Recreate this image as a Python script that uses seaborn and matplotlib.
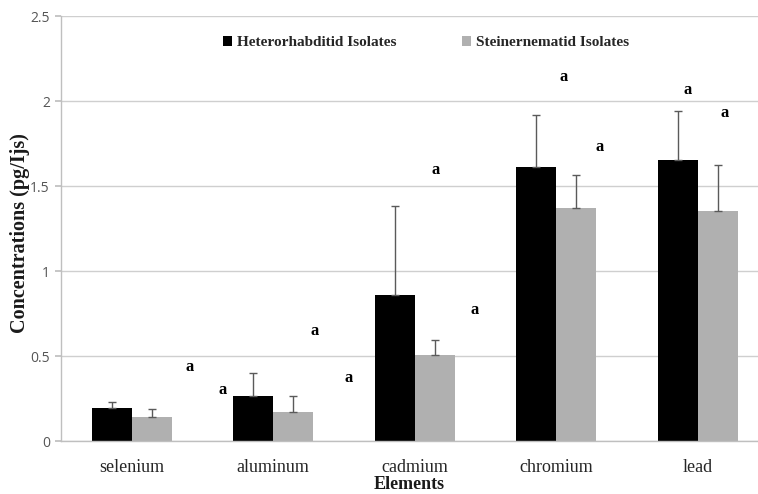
import matplotlib
matplotlib.use("Agg")
import matplotlib.pyplot as plt
import seaborn as sns
import pandas as pd
import numpy as np

elements = ["selenium", "aluminum", "cadmium", "chromium", "lead"]
series = ["Heterorhabditid Isolates", "Steinernematid Isolates"]
hetero_vals = [0.194, 0.265, 0.859, 1.614, 1.653]
hetero_err = [0.033, 0.135, 0.525, 0.306, 0.290]
stein_vals = [0.143, 0.172, 0.508, 1.372, 1.355]
stein_err = [0.043, 0.093, 0.086, 0.193, 0.269]
# significance letters: (x position in category units, y value)
letters = ["a"] * 10
letter_x = [0.41, 0.64, 1.29, 1.53, 2.15, 2.42, 3.05, 3.31, 3.93, 4.19]
letter_y = [0.437, 0.30, 0.645, 0.37, 1.594, 0.77, 2.143, 1.731, 2.065, 1.927]

sns.set_theme(style="white")
plt.rcParams['font.family'] = ['Liberation Serif', 'DejaVu Serif']

df = pd.DataFrame({
    "Element": elements * 2,
    "Series": [series[0]] * 5 + [series[1]] * 5,
    "Value": hetero_vals + stein_vals,
})

fig = plt.figure(figsize=(7.58, 4.94), dpi=100)
ax = fig.add_axes([61/758, 1 - 441/494, 1 - 61/758, (441 - 16)/494])

sns.barplot(data=df, x="Element", y="Value", hue="Series", order=elements,
            hue_order=series, palette=["#000000", "#b0b0b0"], width=0.566,
            errorbar=None, ax=ax, legend=True, saturation=1, linewidth=0)

# error bars (upper only)
errs = hetero_err + stein_err
vals = hetero_vals + stein_vals
bars = [p for p in ax.patches if p.get_height() > 0]
for p, v, e in zip(bars, vals, errs):
    cx = p.get_x() + p.get_width() / 2
    ax.errorbar(cx, v, yerr=[[0], [e]], fmt="none", ecolor="#5a5a5a",
                elinewidth=1.0, capsize=3, capthick=1.0, zorder=3)

for t, x, y in zip(letters, letter_x, letter_y):
    ax.text(x, y, t, ha="center", va="center", fontsize=12,
            fontweight="bold", color="black")

ax.set_ylim(0, 2.5)
ax.set_xlim(-0.5, 4.426)
ax.set_yticks([0, 0.5, 1, 1.5, 2, 2.5])
ax.set_yticklabels(["0", "0.5", "1", "1.5", "2", "2.5"],
                   family=["Open Sans", "DejaVu Sans"])
ax.yaxis.grid(True, color="#cfcfcf", linewidth=1.0)
ax.set_axisbelow(True)
for s in ["top", "right"]:
    ax.spines[s].set_visible(False)
for s in ["left", "bottom"]:
    ax.spines[s].set_color("#bfbfbf")
    ax.spines[s].set_linewidth(1.0)
ax.tick_params(axis="y", which="both", left=True, length=4, color="#bfbfbf",
               labelsize=10, labelcolor="#555555", pad=4)
ax.tick_params(axis="x", bottom=False, labelsize=13, labelcolor="#262626", pad=7)

ax.set_xlabel("Elements", fontsize=13, fontweight="bold", color="#1a1a1a", labelpad=0)
ax.set_ylabel("Concentrations (pg/Ijs)", fontsize=14.5, fontweight="bold",
              color="#1a1a1a")
ax.yaxis.set_label_coords(-0.045, 0.49)

leg = ax.legend(loc="upper center", bbox_to_anchor=(0.524, 0.985), ncol=2,
                frameon=False, handlelength=0.6, handleheight=0.6,
                handletextpad=0.3, columnspacing=4.3,
                prop={"weight": "bold", "size": 11})

fig.savefig("out.png", dpi=100)
